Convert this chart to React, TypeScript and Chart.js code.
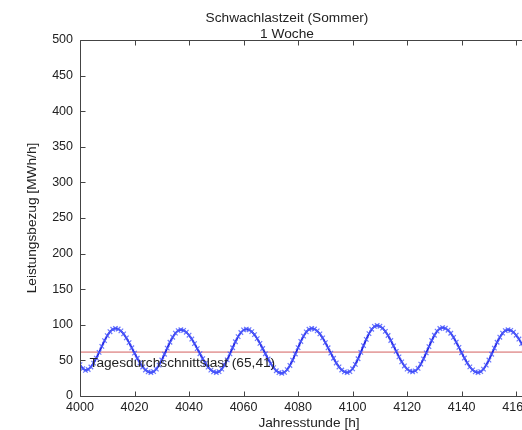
import React, { useEffect, useRef } from 'react';
import { Chart, registerables } from 'chart.js';

Chart.register(...registerables);

const TITLE_LINES = ['Schwachlastzeit (Sommer)', '1 Woche'];
const X_TITLE = 'Jahresstunde [h]';
const Y_TITLE = 'Leistungsbezug [MWh/h]';
const AVG_LABEL = 'Tagesdurchschnittslast (65,41)';

const START_HOUR = 4000;
const END_HOUR = 4168;
const X_STEP = 20;
const Y_MIN = 0;
const Y_MAX = 500;
const Y_STEP = 50;

// hourly load values, hours 4000 .. 4168
const LOAD = [
  44, 38.5, 36,
  37.2, 40.7, 46.2, 53.2, 61.3, 69.7, 77.8, 84.8, 90.3, 93.8, 95,
  94.1, 91.5, 87.2, 81.6, 75, 67.7, 60.3, 53, 46.4, 40.8, 36.5, 33.9, 33,
  34.2, 37.7, 43.4, 50.5, 58.7, 67.3, 75.5, 82.6, 88.3, 91.8, 93,
  92.1, 89.6, 85.4, 80, 73.6, 66.6, 59.4, 52.4, 46, 40.6, 36.4, 33.9, 33,
  34.2, 37.8, 43.6, 50.8, 59.2, 67.8, 76.2, 83.4, 89.2, 92.8, 94,
  93.1, 90.5, 86.2, 80.6, 74, 66.7, 59.3, 52, 45.4, 39.8, 35.5, 32.9, 32,
  33.3, 37, 42.9, 50.4, 59, 68, 76.6, 84.1, 90, 93.7, 95,
  94.1, 91.5, 87.2, 81.6, 75, 67.7, 60.3, 53, 46.4, 40.8, 36.5, 33.9, 33,
  34.3, 38.2, 44.4, 52.3, 61.3, 70.7, 79.6, 87.6, 93.8, 97.7, 99,
  98, 95.3, 90.8, 85, 78, 70.4, 62.6, 55, 48, 42.2, 37.7, 35, 34,
  35.2, 38.9, 44.7, 52.1, 60.6, 69.4, 77.9, 85.3, 91.1, 94.8, 96,
  95.1, 92.4, 88.1, 82.4, 75.7, 68.3, 60.7, 53.3, 46.6, 40.9, 36.6, 33.9, 33,
  34.2, 37.7, 43.4, 50.5, 58.7, 67.3, 75.5, 82.6, 88.3, 91.8, 93,
  92.1, 89.6, 85.4, 80, 73.6, 66.6, 59.4, 52.4, 46, 40.6, 36.4,
];

// drawn level of the daily average line and position of its label
const AVG_LEVEL = 61.5;
const AVG_LABEL_AT = { x: 4003.5, y: 46 };

const FONT = '"Liberation Sans", Arial, Helvetica, sans-serif';
const TEXT = '#222';
const AXIS = '#444';
const TITLE_SIZE = 13.7;
const TICK_SIZE = 12.5;

const matlabPlugin = {
  id: 'matlabAxes',
  afterDatasetsDraw(chart: any) {
    const { ctx, scales } = chart;
    const x = scales.x;
    const y = scales.y;
    ctx.save();
    ctx.fillStyle = TEXT;
    ctx.font = `${TITLE_SIZE}px ${FONT}`;
    ctx.textAlign = 'left';
    ctx.textBaseline = 'middle';
    ctx.fillText(AVG_LABEL, x.getPixelForValue(AVG_LABEL_AT.x), y.getPixelForValue(AVG_LABEL_AT.y));
    ctx.restore();
  },
  afterDraw(chart: any) {
    const { ctx, chartArea, scales } = chart;
    const { left, right, top, bottom } = chartArea;
    const x = scales.x;
    const y = scales.y;
    ctx.save();
    ctx.strokeStyle = AXIS;
    ctx.lineWidth = 1;
    ctx.beginPath();
    const l = Math.round(left) + 0.5;
    const r = Math.round(right) + 0.5;
    const t = Math.round(top) + 0.5;
    const b = Math.round(bottom) + 0.5;
    ctx.moveTo(l, t);
    ctx.lineTo(r, t);
    ctx.lineTo(r, b);
    ctx.lineTo(l, b);
    ctx.closePath();
    const TL = 5;
    x.ticks.forEach((tk: any) => {
      const px = Math.round(x.getPixelForValue(tk.value)) + 0.5;
      ctx.moveTo(px, b);
      ctx.lineTo(px, b - TL);
      ctx.moveTo(px, t);
      ctx.lineTo(px, t + TL);
    });
    y.ticks.forEach((tk: any) => {
      const py = Math.round(y.getPixelForValue(tk.value)) + 0.5;
      ctx.moveTo(l, py);
      ctx.lineTo(l + TL, py);
      ctx.moveTo(r, py);
      ctx.lineTo(r - TL, py);
    });
    ctx.stroke();

    ctx.fillStyle = TEXT;
    ctx.font = `${TITLE_SIZE}px ${FONT}`;
    ctx.textAlign = 'center';
    ctx.textBaseline = 'alphabetic';
    ctx.fillText(TITLE_LINES[0], chart.width / 2, 14);
    ctx.fillText(TITLE_LINES[1], chart.width / 2, 29.5);
    ctx.restore();
  },
};

export default function App() {
  const ref = useRef<HTMLCanvasElement>(null);

  useEffect(() => {
    const canvas = ref.current;
    if (!canvas) return;
    const loadPoints = LOAD.map((v, i) => ({ x: START_HOUR + i, y: v }));
    const avgPoints = [
      { x: START_HOUR, y: AVG_LEVEL },
      { x: END_HOUR, y: AVG_LEVEL },
    ];
    const chart = new Chart(canvas, {
      type: 'line',
      data: {
        datasets: [
          {
            data: loadPoints,
            borderColor: 'rgb(25,25,220)',
            borderWidth: 1.8,
            pointStyle: 'crossRot',
            pointRadius: 3.2,
            pointBorderWidth: 1.2,
            pointBorderColor: 'rgba(80,95,255,0.85)',
            pointBackgroundColor: 'rgba(0,0,0,0)',
            tension: 0,
          },
          {
            data: avgPoints,
            borderColor: '#e6a3a3',
            borderWidth: 1.8,
            pointRadius: 0,
          },
        ],
      },
      options: {
        responsive: false,
        animation: false,
        devicePixelRatio: 1,
        layout: { padding: { top: 32, left: 0, right: 28, bottom: 0 } },
        plugins: {
          legend: { display: false },
          tooltip: { enabled: false },
          title: { display: false },
        },
        scales: {
          x: {
            type: 'linear',
            min: START_HOUR,
            max: END_HOUR,
            grid: { drawOnChartArea: false, drawTicks: false },
            border: { display: false },
            ticks: {
              stepSize: X_STEP,
              includeBounds: false,
              padding: 4,
              color: TEXT,
              font: { family: FONT, size: TICK_SIZE },
              maxRotation: 0,
              autoSkip: false,
              callback: (v: any) => String(v),
            },
            title: {
              display: true,
              text: X_TITLE,
              color: TEXT,
              font: { family: FONT, size: TITLE_SIZE },
              padding: { top: 0, bottom: -1 },
            },
            afterFit: (s: any) => {
              s.height = 34;
            },
          },
          y: {
            type: 'linear',
            min: Y_MIN,
            max: Y_MAX,
            grid: { drawOnChartArea: false, drawTicks: false },
            border: { display: false },
            ticks: {
              stepSize: Y_STEP,
              padding: 7,
              color: TEXT,
              font: { family: FONT, size: TICK_SIZE },
              autoSkip: false,
            },
            title: {
              display: true,
              text: Y_TITLE,
              color: TEXT,
              font: { family: FONT, size: TITLE_SIZE },
              padding: { top: 16.5, bottom: 0 },
            },
            afterFit: (s: any) => {
              s.width = 72;
            },
          },
        },
      },
      plugins: [matlabPlugin],
    });
    return () => chart.destroy();
  }, []);

  return (
    <div
      style={{
        position: 'fixed',
        left: 8,
        top: 8,
        width: 514,
        height: 422,
        overflow: 'hidden',
      }}
    >
      <canvas ref={ref} width={558} height={422} style={{ display: 'block', width: 558, height: 422 }} />
    </div>
  );
}
